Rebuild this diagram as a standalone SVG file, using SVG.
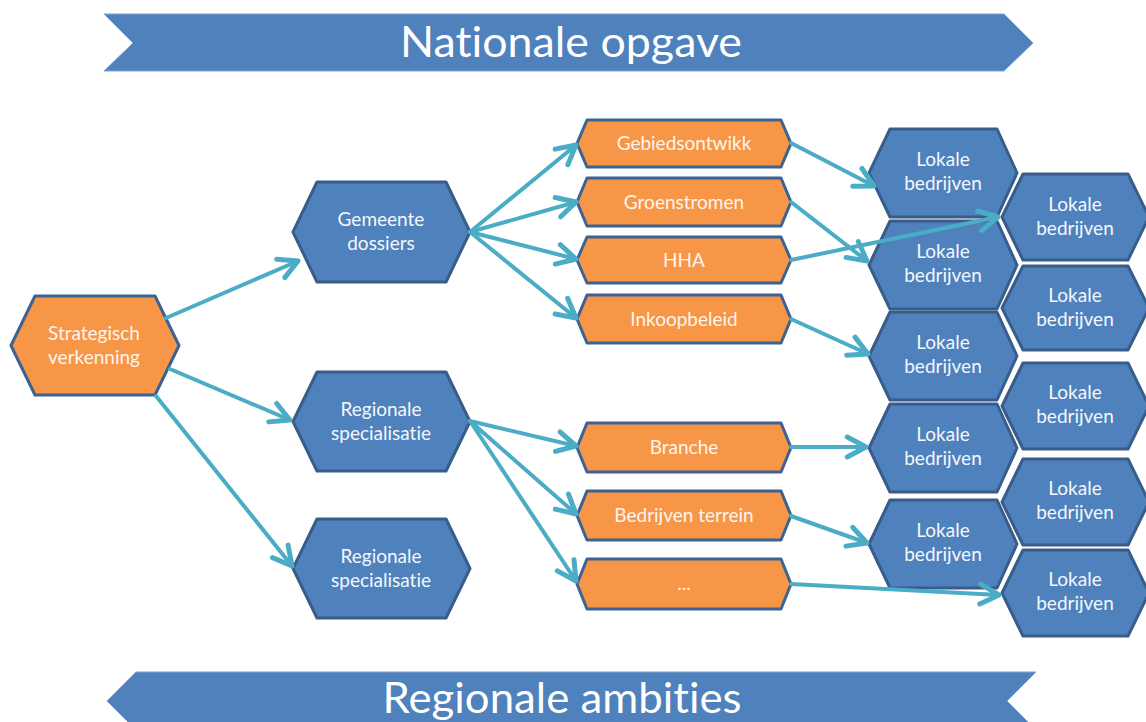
<svg xmlns="http://www.w3.org/2000/svg" width="1146" height="722" viewBox="0 0 1146 722">
<style>
.banner{fill:#4F81BD;stroke:#7FA3D1;stroke-width:1}
.btxt{font-family:Lato,"Open Sans",sans-serif;font-size:43px;fill:#FFFFFF;text-anchor:middle;font-variant-ligatures:none}
.blue{fill:#4F81BD;stroke:#385D8A;stroke-width:3;stroke-linejoin:round}
.orange{fill:#F79646;stroke:#3B6293;stroke-width:3;stroke-linejoin:round}
.t{font-family:Lato,"Open Sans",sans-serif;font-size:19px;fill:#F4F7FC;text-anchor:middle;font-variant-ligatures:none}
.ot{font-family:Lato,"Open Sans",sans-serif;font-size:19px;fill:#FFF5EE;text-anchor:middle;font-variant-ligatures:none}
.c{fill:none;stroke:#4BACC6;stroke-width:4;stroke-linecap:round}
</style>
<defs>
<marker id="ah" markerUnits="userSpaceOnUse" markerWidth="30" markerHeight="30" refX="0" refY="0" viewBox="-18 -12 22 24" orient="auto" overflow="visible">
<path d="M-15,-8 L0,0 L-15,8" fill="none" stroke="#4BACC6" stroke-width="4" stroke-linecap="round" stroke-linejoin="round"/>
</marker>
</defs>
<rect width="1146" height="722" fill="#FFFFFF"/>

<g id="banner-top">
<polygon class="banner" points="104,14 1004,14 1033,43 1004,71 104,71 133,43"/>
<text class="btxt" x="571" y="57" textLength="342" lengthAdjust="spacingAndGlyphs">Nationale opgave</text>
</g>
<g id="banner-bottom">
<polygon class="banner" points="136,672 1036,672 1007,701 1036,730 136,730 107,701"/>
<text class="btxt" x="562" y="713" textLength="359" lengthAdjust="spacingAndGlyphs">Regionale ambities</text>
</g>

<g id="strategisch">
<polygon class="orange" points="11,345.5 35,296 155,296 179,345.5 155,395 35,395"/>
<text class="ot" x="94" y="340">Strategisch</text>
<text class="ot" x="94" y="364">verkenning</text>
</g>
<g id="gemeente">
<polygon class="blue" points="293,232 317,182 446,182 470,232 446,282 317,282"/>
<text class="t" x="381" y="226">Gemeente</text>
<text class="t" x="381" y="250">dossiers</text>
</g>
<g id="regionale1">
<polygon class="blue" points="293,421.5 317,372 446,372 470,421.5 446,471 317,471"/>
<text class="t" x="381" y="416">Regionale</text>
<text class="t" x="381" y="440">specialisatie</text>
</g>
<g id="regionale2">
<polygon class="blue" points="293,568.5 317,519 446,519 470,568.5 446,618 317,618"/>
<text class="t" x="381" y="563">Regionale</text>
<text class="t" x="381" y="587">specialisatie</text>
</g>

<g id="gebiedsontwikk">
<polygon class="orange" points="577,143.5 587,120 781,120 791,143.5 781,167 587,167"/>
<text class="ot" x="684" y="150">Gebiedsontwikk</text>
</g>
<g id="groenstromen">
<polygon class="orange" points="577,202 587,178 781,178 791,202 781,226 587,226"/>
<text class="ot" x="684" y="208.5">Groenstromen</text>
</g>
<g id="hha">
<polygon class="orange" points="577,260 587,237 781,237 791,260 781,283 587,283"/>
<text class="ot" x="684" y="266.5">HHA</text>
</g>
<g id="inkoopbeleid">
<polygon class="orange" points="577,319 587,295 781,295 791,319 781,343 587,343"/>
<text class="ot" x="684" y="325.5">Inkoopbeleid</text>
</g>
<g id="branche">
<polygon class="orange" points="577,447.5 587,423 781,423 791,447.5 781,472 587,472"/>
<text class="ot" x="684" y="454">Branche</text>
</g>
<g id="bedrijventerrein">
<polygon class="orange" points="577,515.5 587,491 781,491 791,515.5 781,540 587,540"/>
<text class="ot" x="684" y="522">Bedrijven terrein</text>
</g>
<g id="dots">
<polygon class="orange" points="577,584 587,559 781,559 791,584 781,609 587,609"/>
<text class="ot" x="684" y="590">...</text>
</g>

<g id="lokale-l1">
<polygon class="blue" points="869,173 890,129 997,129 1017,173 997,217 890,217"/>
<text class="t" x="943" y="166">Lokale</text><text class="t" x="943" y="190">bedrijven</text>
</g>
<g id="lokale-l2">
<polygon class="blue" points="869,265 890,221 997,221 1017,265 997,309 890,309"/>
<text class="t" x="943" y="258">Lokale</text><text class="t" x="943" y="282">bedrijven</text>
</g>
<g id="lokale-l3">
<polygon class="blue" points="869,356 890,312 997,312 1017,356 997,400 890,400"/>
<text class="t" x="943" y="349">Lokale</text><text class="t" x="943" y="373">bedrijven</text>
</g>
<g id="lokale-l4">
<polygon class="blue" points="869,448 890,404 997,404 1017,448 997,492 890,492"/>
<text class="t" x="943" y="441">Lokale</text><text class="t" x="943" y="465">bedrijven</text>
</g>
<g id="lokale-l5">
<polygon class="blue" points="869,544 890,500 997,500 1017,544 997,588 890,588"/>
<text class="t" x="943" y="537">Lokale</text><text class="t" x="943" y="561">bedrijven</text>
</g>
<g id="lokale-r1">
<polygon class="blue" points="1002,217 1023,174 1128,174 1149,217 1128,260 1023,260"/>
<text class="t" x="1075" y="211">Lokale</text><text class="t" x="1075" y="235">bedrijven</text>
</g>
<g id="lokale-r2">
<polygon class="blue" points="1002,308 1023,266 1128,266 1149,308 1128,350 1023,350"/>
<text class="t" x="1075" y="302">Lokale</text><text class="t" x="1075" y="326">bedrijven</text>
</g>
<g id="lokale-r3">
<polygon class="blue" points="1002,406 1023,363 1128,363 1149,406 1128,449 1023,449"/>
<text class="t" x="1075" y="399">Lokale</text><text class="t" x="1075" y="423">bedrijven</text>
</g>
<g id="lokale-r4">
<polygon class="blue" points="1002,502 1023,459 1128,459 1149,502 1128,545 1023,545"/>
<text class="t" x="1075" y="495">Lokale</text><text class="t" x="1075" y="519">bedrijven</text>
</g>
<g id="lokale-r5">
<polygon class="blue" points="1002,593 1023,550 1128,550 1149,593 1128,636 1023,636"/>
<text class="t" x="1075" y="586">Lokale</text><text class="t" x="1075" y="610">bedrijven</text>
</g>

<g id="connectors">
<line class="c" x1="166" y1="318" x2="298" y2="261" marker-end="url(#ah)"/>
<line class="c" x1="170" y1="369" x2="290" y2="420" marker-end="url(#ah)"/>
<line class="c" x1="156" y1="396" x2="292" y2="566" marker-end="url(#ah)"/>
<line class="c" x1="470" y1="232" x2="576" y2="145" marker-end="url(#ah)"/>
<line class="c" x1="470" y1="232" x2="576" y2="202" marker-end="url(#ah)"/>
<line class="c" x1="470" y1="232" x2="576" y2="259" marker-end="url(#ah)"/>
<line class="c" x1="470" y1="232" x2="576" y2="318" marker-end="url(#ah)"/>
<line class="c" x1="470" y1="421" x2="576" y2="446" marker-end="url(#ah)"/>
<line class="c" x1="470" y1="421" x2="576" y2="514" marker-end="url(#ah)"/>
<line class="c" x1="470" y1="421" x2="576" y2="581" marker-end="url(#ah)"/>
<line class="c" x1="791" y1="143" x2="874" y2="186" marker-end="url(#ah)"/>
<line class="c" x1="791" y1="202" x2="867" y2="261" marker-end="url(#ah)"/>
<line class="c" x1="791" y1="260" x2="998" y2="217" marker-end="url(#ah)"/>
<line class="c" x1="791" y1="319" x2="868" y2="354" marker-end="url(#ah)"/>
<line class="c" x1="791" y1="447" x2="866" y2="447" marker-end="url(#ah)"/>
<line class="c" x1="791" y1="516" x2="867" y2="543" marker-end="url(#ah)"/>
<line class="c" x1="791" y1="584" x2="999" y2="595" marker-end="url(#ah)"/>
</g>
</svg>
